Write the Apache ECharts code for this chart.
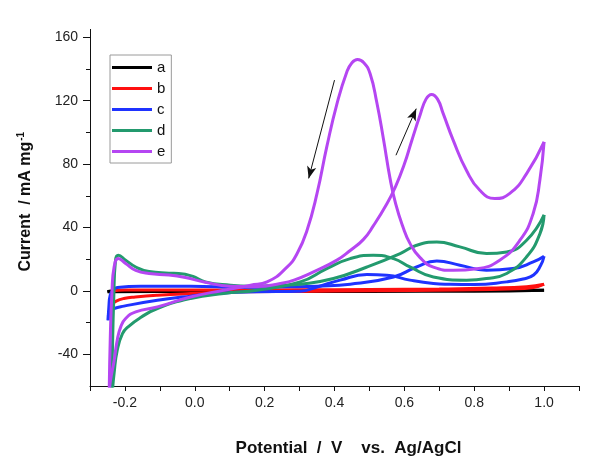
<!DOCTYPE html>
<html>
<head>
<meta charset="utf-8">
<script src="https://cdn.jsdelivr.net/npm/echarts@6/dist/echarts.min.js"></script>
<style>html,body{margin:0;padding:0;background:#fff}#c{width:600px;height:470px}</style>
</head>
<body>
<div id="c"></div>
<script>
// ---- data (potential V, current mA mg^-1) ----
const seriesNames = ['a', 'b', 'c', 'd', 'e'];
const xTickValues = [-0.3, -0.2, -0.1, 0.0, 0.1, 0.2, 0.3, 0.4, 0.5, 0.6, 0.7, 0.8, 0.9, 1.0, 1.1];
const xLabelValues = [-0.2, 0.0, 0.2, 0.4, 0.6, 0.8, 1.0];
const yLabelValues = [-40, 0, 40, 80, 120, 160];
const yMinorValues = [-20, 20, 60, 100, 140];

const aForward = [[-0.25,-0.6],[-0.24,-0.1],[-0.1,0],[0.2,0.1],[0.5,0.2],[0.8,0.3],[1.0,0.4]];
const aReverse = [[1.0,0.4],[0.8,-0.2],[0.5,-0.3],[0.2,-0.3],[-0.1,-0.4],[-0.25,-0.6]];

const bForward = [[-0.24,-9],[-0.238,-3],[-0.232,0],[-0.2,0.6],[-0.1,0.6],[0.1,0.6],[0.3,0.7],[0.5,0.9],[0.7,1.2],[0.85,1.8],[0.95,2.7],[1.0,4.2]];
const bReverse = [[1.0,4.2],[0.97,2.2],[0.9,1.2],[0.75,0.6],[0.5,0.1],[0.3,-0.3],[0.13,-0.6],[-0.012,-1.7],[-0.107,-2.7],[-0.17,-3.8],[-0.203,-4.8],[-0.225,-6.5],[-0.24,-9]];

const cForward = [[-0.248,-18.5],[-0.246,-10],[-0.242,-2.5],[-0.234,0.5],[-0.222,2.1],[-0.155,3],[-0.012,3],[0.131,2.3],[0.273,2.6],[0.35,3],[0.445,4.2],[0.569,8.8],[0.635,15.1],[0.693,18.9],[0.759,16.2],[0.835,13.1],[0.911,14.1],[0.969,18.3],[1.0,21.9]];
const cReverse = [[1.0,21.9],[0.99,16],[0.97,10],[0.94,7.5],[0.893,5.7],[0.8,4],[0.731,4.2],[0.683,4.7],[0.616,6.8],[0.55,9.9],[0.493,10.3],[0.416,6.8],[0.35,2.5],[0.302,-0.2],[0.178,-0.6],[0.083,-1.3],[-0.012,-3.3],[-0.107,-5.9],[-0.203,-9.6],[-0.231,-11.1],[-0.246,-13.2],[-0.248,-18.5]];

const dForward = [[-0.238,-64],[-0.236,-40],[-0.232,-5],[-0.227,19.4],[-0.219,22.5],[-0.198,19.4],[-0.169,15.1],[-0.131,12.2],[-0.074,11.2],[-0.046,11],[-0.007,9.3],[0.03,5.7],[0.102,3.6],[0.159,3],[0.273,3.8],[0.302,4.2],[0.397,7.8],[0.493,15.1],[0.588,23.6],[0.635,28.8],[0.693,30.9],[0.759,27.8],[0.835,23.6],[0.893,24.6],[0.95,32],[1.0,48]];
const dReverse = [[1.0,48],[0.988,36],[0.95,21.5],[0.893,11],[0.835,7.8],[0.778,6.8],[0.683,8.8],[0.616,15.1],[0.569,20.4],[0.511,22.5],[0.445,20.4],[0.378,14.1],[0.302,5.7],[0.178,0.4],[0.083,-1.6],[-0.012,-4.8],[-0.107,-11.1],[-0.155,-16.8],[-0.19,-22.5],[-0.207,-27],[-0.222,-37.4],[-0.231,-52],[-0.236,-64]];

const eForward = [[-0.245,-64],[-0.242,-30],[-0.237,0],[-0.231,15],[-0.219,20.5],[-0.198,17.3],[-0.169,13],[-0.131,11],[-0.074,10],[-0.027,8.4],[0.03,5.5],[0.1,3],[0.18,2.8],[0.245,4.7],[0.284,6.8],[0.34,12],[0.407,19.4],[0.445,25.5],[0.483,32.5],[0.511,41],[0.55,55],[0.575,66],[0.6,80],[0.62,94],[0.645,111],[0.662,121],[0.678,124],[0.695,121],[0.711,112],[0.74,95],[0.778,76],[0.816,63.5],[0.859,58.3],[0.902,61.5],[0.95,74],[1.0,94]];
const eReverse = [[1.0,94],[0.988,70],[0.969,49],[0.931,32],[0.873,19.4],[0.807,14],[0.74,13],[0.683,15],[0.645,21],[0.616,30],[0.595,41],[0.575,55],[0.559,71],[0.54,96],[0.521,119],[0.502,137],[0.484,144],[0.466,146],[0.45,144],[0.435,138],[0.407,118],[0.378,91],[0.35,61.5],[0.321,38],[0.293,23.6],[0.264,15],[0.207,5.7],[0.16,3.6],[0.083,0.4],[-0.012,-3.8],[-0.107,-10.1],[-0.169,-13.2],[-0.198,-17.4],[-0.212,-22.7],[-0.222,-31],[-0.231,-44],[-0.241,-56],[-0.245,-64]];

// scan-direction arrows (annotation, data coords)
const arrowReverse = [[0.40,133],[0.326,71]];
const arrowForward = [[0.576,85.6],[0.634,115]];

const curves = [
  {name:'a', fwd:aForward, rev:aReverse, color:'#000000'},
  {name:'b', fwd:bForward, rev:bReverse, color:'#ff1010'},
  {name:'c', fwd:cForward, rev:cReverse, color:'#1f33ff'},
  {name:'d', fwd:dForward, rev:dReverse, color:'#239a6e'},
  {name:'e', fwd:eForward, rev:eReverse, color:'#b546f2'}
];

const FONT = '"Liberation Sans", Arial, sans-serif';
const series = [];
curves.forEach(cv => {
  [cv.fwd, cv.rev].forEach(d => {
    series.push({
      name: cv.name, type: 'line', data: d, smooth: 0.5, showSymbol: false,
      symbol: 'none', clip: true,
      itemStyle: {color: cv.color},
      lineStyle: {color: cv.color, width: 3},
      emphasis: {disabled: true}
    });
  });
});
series.push({
  name: 'arrows', type: 'line', data: [], silent: true,
  markLine: {
    silent: true, symbol: ['none', 'arrow'], symbolSize: [7, 12],
    label: {show: false},
    lineStyle: {color: '#111', width: 1, type: 'solid'},
    emphasis: {disabled: true},
    data: [
      [{coord: arrowReverse[0], lineStyle:{curveness: 0.06}}, {coord: arrowReverse[1]}],
      [{coord: arrowForward[0]}, {coord: arrowForward[1]}]
    ]
  }
});

const chart = echarts.init(document.getElementById('c'), null, {renderer: 'canvas'});
chart.setOption({
  animation: false,
  backgroundColor: '#fff',
  textStyle: {fontFamily: FONT},
  grid: {left: 90, right: 21, top: 29.4, bottom: 84, containLabel: false},
  legend: {
    data: seriesNames, orient: 'vertical', left: 110, top: 55,
    icon: 'rect', itemWidth: 40, itemHeight: 3, itemGap: 6,
    padding: [5, 6, 4, 2],
    borderColor: '#9a9a9a', borderWidth: 1,
    textStyle: {fontSize: 15, lineHeight: 15, color: '#111', fontFamily: FONT},
    selectedMode: false
  },
  xAxis: {
    type: 'value', min: -0.3, max: 1.1,
    name: 'Potential  /  V    vs.  Ag/AgCl', nameLocation: 'middle', nameGap: 54,
    nameTextStyle: {fontSize: 17, fontWeight: 'bold', color: '#111', fontFamily: FONT, padding: [0, 0, 0, 28]},
    axisLine: {onZero: false, lineStyle: {color: '#111', width: 1}},
    axisTick: {show: true, inside: false, length: 5, customValues: xTickValues, lineStyle: {color: '#111'}},
    axisLabel: {customValues: xLabelValues, fontSize: 14, color: '#222', margin: 10, fontFamily: FONT,
      formatter: v => v.toFixed(1)},
    splitLine: {show: false}
  },
  yAxis: [{
    type: 'value', min: -60, max: 165,
    name: '{m|Current  / mA mg}{s|-1}', nameLocation: 'middle', nameGap: 54,
    nameTextStyle: {
      rich: {
        m: {fontSize: 16, fontWeight: 'bold', color: '#111', fontFamily: FONT, lineHeight: 20},
        s: {fontSize: 10, fontWeight: 'bold', color: '#111', fontFamily: FONT, verticalAlign: 'top', lineHeight: 10, padding: [0,0,0,1]}
      },
      padding: [0, 0, 0, 12]
    },
    axisLine: {onZero: false, lineStyle: {color: '#111', width: 1}},
    axisTick: {show: true, inside: false, length: 7, customValues: yLabelValues, lineStyle: {color: '#111'}},
    axisLabel: {customValues: yLabelValues, fontSize: 14, color: '#222', margin: 12, fontFamily: FONT},
    splitLine: {show: false}
  }, {
    type: 'value', min: -60, max: 165, position: 'left', offset: 0,
    axisLine: {show: false, onZero: false},
    axisTick: {show: true, inside: false, length: 4, customValues: yMinorValues, lineStyle: {color: '#111'}},
    axisLabel: {show: false},
    splitLine: {show: false}
  }],
  series: series
});
</script>
</body>
</html>
